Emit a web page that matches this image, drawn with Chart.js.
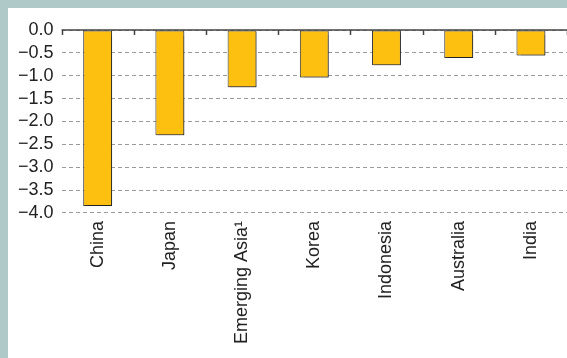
<!DOCTYPE html>
<html>
<head>
<meta charset="utf-8">
<script src="https://cdn.jsdelivr.net/npm/chart.js@4.4.1/dist/chart.umd.min.js"></script>
<style>
  html, body { margin: 0; padding: 0; background: #afc9c9; }
  #wrap { position: absolute; left: 8px; top: 8px; width: 559px; height: 350px; background: #fff; }
</style>
</head>
<body>
<div id="wrap"><canvas id="chart"></canvas></div>
<script>
// Contribution by economy
const countries = ["China", "Japan", "Emerging Asia\u00b9", "Korea", "Indonesia", "Australia", "India"];
const values = [-3.85, -2.3, -1.25, -1.04, -0.77, -0.61, -0.56];
const yTicks = [0, -0.5, -1, -1.5, -2, -2.5, -3, -3.5, -4];

const barColor = "#fdc010";
const fontFamily = "'Liberation Sans', Arial, sans-serif";

// solid zero line with small ticks at category boundaries
const zeroLine = {
    id: "zeroLine",
    beforeDatasetsDraw(chart) {
        const ctx = chart.ctx;
        ctx.save();
        ctx.shadowColor = "rgba(0,0,0,0.35)";
        ctx.shadowOffsetX = 1.5;
        ctx.shadowOffsetY = 1.5;
        ctx.shadowBlur = 1;
    },
    afterDatasetsDraw(chart) {
        const ctx = chart.ctx;
        ctx.restore();
        const x = chart.scales.x, y = chart.scales.y;
        const y0 = y.getPixelForValue(0);
        ctx.save();
        ctx.strokeStyle = "#444";
        ctx.lineWidth = 1.5;
        ctx.beginPath();
        ctx.moveTo(x.left, y0);
        ctx.lineTo(x.right, y0);
        const step = (x.right - x.left) / countries.length;
        for (let i = 0; i <= countries.length; i++) {
            const px = Math.round(x.left + i * step) + 0.5;
            ctx.moveTo(px, y0);
            ctx.lineTo(px, y0 + 5);
        }
        ctx.stroke();
        ctx.restore();
    }
};

new Chart(document.getElementById("chart"), {
    type: "bar",
    data: {
        labels: countries,
        datasets: [{
            data: values,
            backgroundColor: barColor,
            borderColor: "#333",
            borderWidth: 1,
            borderSkipped: false,
            categoryPercentage: 1,
            barPercentage: 0.4
        }]
    },
    options: {
        responsive: true,
        maintainAspectRatio: false,
        animation: false,
        layout: { padding: { top: 22, left: 2, right: 0, bottom: 14 } },
        plugins: { legend: { display: false }, tooltip: { enabled: false } },
        scales: {
            x: {
                grid: { display: false },
                border: { display: false },
                ticks: {
                    minRotation: 90,
                    maxRotation: 90,
                    padding: 0,
                    color: "#222",
                    font: { family: fontFamily, size: 18 }
                }
            },
            y: {
                min: -4,
                max: 0,
                afterBuildTicks(scale) {
                    scale.ticks = yTicks.map(v => ({ value: v }));
                },
                grid: { color: "#9a9a9a", lineWidth: 1, drawTicks: false },
                border: { display: false, dash: [4, 3] },
                ticks: {
                    autoSkip: false,
                    padding: 8,
                    color: "#222",
                    font: { family: fontFamily, size: 18 },
                    callback: v => v.toFixed(1).replace("-", "\u2212")
                }
            }
        }
    },
    plugins: [zeroLine]
});
</script>
</body>
</html>
